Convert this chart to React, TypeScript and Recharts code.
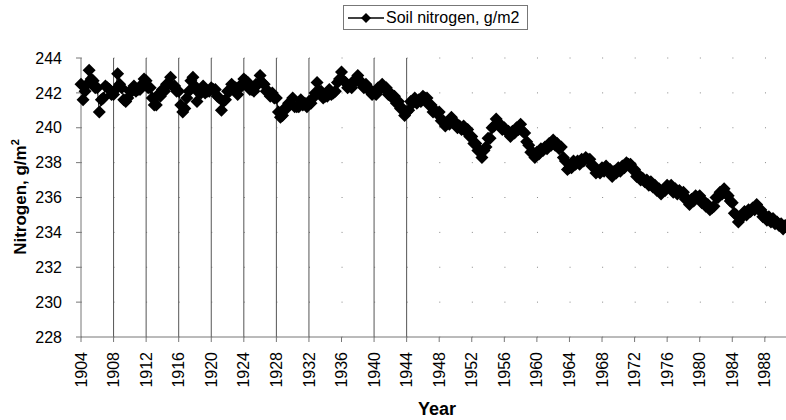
import React from "react";
import {
  CartesianGrid,
  Label,
  Line,
  LineChart,
  ReferenceLine,
  XAxis,
  YAxis,
} from "recharts";

// quarterly readings of soil nitrogen (g/m2), one block per decade
const nitrogen1900s = [
  242.5, 241.6, 242.1, 242.5,
  243.3, 242.8, 242.7, 242.3,
  242.3, 240.9, 241.6, 241.7,
  242.4, 242.3, 242.2, 241.9,
  241.9, 242.2, 243.1, 242.5,
  242.3, 241.6, 241.5, 241.7,
];
const nitrogen1910s = [
  242.1, 242.1, 242.4, 242.1,
  242.2, 242.2, 242.5, 242.8,
  242.7, 242.3, 242.3, 241.7,
  241.3, 241.3, 241.9, 241.8,
  242.2, 242.1, 242.5, 242.5,
  242.9, 242.4, 242.4, 242.1,
  242.1, 241.3, 240.9, 241.1,
  241.7, 242.1, 242.7, 242.9,
  242.4, 241.5, 242.0, 242.0,
  242.4, 242.0, 242.1, 242.1,
];
const nitrogen1920s = [
  242.3, 242.2, 242.2, 241.8,
  241.7, 241.0, 241.5, 241.6,
  242.1, 242.1, 242.5, 242.3,
  242.3, 241.9, 242.4, 242.4,
  242.8, 242.7, 242.6, 242.2,
  242.2, 242.1, 242.5, 242.5,
  243.0, 242.6, 242.5, 242.1,
  242.1, 241.8, 242.0, 241.7,
  241.7, 240.9, 240.6, 240.7,
  241.1, 241.1, 241.4, 241.4,
];
const nitrogen1930s = [
  241.7, 241.2, 241.2, 241.2,
  241.6, 241.3, 241.4, 241.2,
  241.5, 241.4, 241.7, 242.0,
  242.6, 242.1, 242.1, 241.7,
  241.8, 241.8, 242.2, 241.9,
  242.0, 242.1, 242.6, 242.8,
  243.2, 242.7, 242.6, 242.3,
  242.4, 242.3, 242.7, 242.7,
  243.0, 242.6, 242.6, 242.3,
  242.5, 242.2, 242.2, 241.9,
];
const nitrogen1940s = [
  242.0, 241.9, 242.3, 242.2,
  242.5, 242.3, 242.3, 241.9,
  242.0, 241.7, 241.8, 241.4,
  241.5, 241.1, 241.1, 240.7,
  240.9, 241.0, 241.5, 241.4,
  241.7, 241.4, 241.6, 241.5,
  241.8, 241.7, 241.7, 241.3,
  241.3, 240.9, 241.0, 240.8,
  240.9, 240.4, 240.4, 240.1,
  240.3, 240.2, 240.6, 240.3,
];
const nitrogen1950s = [
  240.3, 240.0, 240.1, 239.9,
  240.1, 239.8, 239.9, 239.5,
  239.5, 239.1, 239.1, 238.7,
  238.7, 238.3, 238.7, 238.9,
  239.4, 239.4, 240.0, 240.1,
  240.5, 240.2, 240.2, 239.9,
  240.0, 239.8, 239.8, 239.5,
  239.8, 239.7, 240.0, 239.9,
  240.2, 239.8, 239.7, 239.2,
  239.0, 238.6, 238.6, 238.3,
];
const nitrogen1960s = [
  238.6, 238.5, 238.8, 238.7,
  238.9, 238.8, 239.1, 239.0,
  239.3, 239.0, 239.1, 238.8,
  238.9, 238.3, 238.1, 237.6,
  237.7, 237.7, 238.1, 237.9,
  238.1, 237.9, 238.2, 238.1,
  238.3, 238.2, 238.2, 237.8,
  237.8, 237.4, 237.5, 237.4,
  237.7, 237.5, 237.8, 237.5,
  237.6, 237.2, 237.5, 237.4,
];
const nitrogen1970s = [
  237.7, 237.5, 237.8, 237.7,
  238.0, 237.9, 237.9, 237.6,
  237.6, 237.2, 237.3, 237.0,
  237.1, 236.9, 237.0, 236.7,
  236.9, 236.6, 236.7, 236.4,
  236.5, 236.2, 236.4, 236.4,
  236.7, 236.6, 236.7, 236.3,
  236.5, 236.2, 236.4, 236.2,
  236.3, 235.9, 235.9, 235.6,
  235.9, 235.8, 236.1, 236.0,
];
const nitrogen1980s = [
  236.1, 235.7, 235.8, 235.5,
  235.6, 235.3, 235.4, 235.5,
  236.0, 236.0, 236.3, 236.2,
  236.5, 236.2, 236.1, 235.8,
  235.7, 235.1, 235.0, 234.6,
  234.9, 234.9, 235.2, 235.0,
  235.3, 235.2, 235.4, 235.3,
  235.6, 235.3, 235.3, 234.9,
  235.0, 234.7, 234.9, 234.6,
  234.8, 234.5, 234.6, 234.4,
];
const nitrogen1990s = [234.5, 234.2, 234.4];

const blocks: [number, number[]][] = [
  [1904, nitrogen1900s],
  [1910, nitrogen1910s],
  [1920, nitrogen1920s],
  [1930, nitrogen1930s],
  [1940, nitrogen1940s],
  [1950, nitrogen1950s],
  [1960, nitrogen1960s],
  [1970, nitrogen1970s],
  [1980, nitrogen1980s],
  [1990, nitrogen1990s],
];

const yearTicks = [
  1904, 1908, 1912, 1916, 1920, 1924, 1928, 1932, 1936, 1940, 1944, 1948,
  1952, 1956, 1960, 1964, 1968, 1972, 1976, 1980, 1984, 1988,
];
const nitrogenTicks = [228, 230, 232, 234, 236, 238, 240, 242, 244];
const markerYears = [1908, 1912, 1916, 1920, 1924, 1928, 1932, 1940, 1944];

const data = blocks.flatMap(([from, values]) =>
  values.map((v, i) => ({ year: from + i * 0.25, nitrogen: v }))
);

const FONT = '"Liberation Sans", Arial, sans-serif';

const Diamond = (props: any) => {
  const { cx, cy } = props;
  if (cx == null || cy == null) return null;
  const r = 6.5;
  return (
    <polygon
      points={`${cx},${cy - r} ${cx + r},${cy} ${cx},${cy + r} ${cx - r},${cy}`}
      fill="#000"
    />
  );
};

const YearTick = ({ x, y, payload }: any) => (
  <text
    x={x}
    y={y}
    transform={`rotate(-90 ${x} ${y})`}
    textAnchor="end"
    dy="0.35em"
    fontSize={16}
    fontFamily={FONT}
    fill="#000"
  >
    {payload.value}
  </text>
);

const LegendBox = () => (
  <div
    style={{
      position: "absolute",
      left: 343,
      top: 5,
      border: "1px solid #777",
      width: 185,
      height: 25,
      boxSizing: "border-box",
      display: "flex",
      alignItems: "center",
      fontFamily: FONT,
      fontSize: 16,
      background: "#fff",
    }}
  >
    <svg width={42} height={20}>
      <line x1={4} y1={10} x2={40} y2={10} stroke="#000" strokeWidth={1.5} />
      <polygon points="22,5 27,10 22,15 17,10" fill="#000" />
    </svg>
    <span>Soil nitrogen, g/m2</span>
  </div>
);

export default function App() {
  return (
    <div
      style={{
        position: "absolute",
        left: 0,
        top: 0,
        width: 786,
        height: 420,
        background: "#fff",
      }}
    >
      <LineChart
        width={786}
        height={420}
        data={data}
        margin={{ top: 58, right: 0, left: 0, bottom: 0 }}
      >
        <CartesianGrid
          vertical={false}
          stroke="#888"
          strokeDasharray="1 31.57"
        />
        <XAxis
          dataKey="year"
          type="number"
          domain={[1904, 1990.6]}
          ticks={yearTicks}
          tick={<YearTick />}
          tickSize={5}
          tickMargin={10}
          height={83}
          stroke="#777"
          interval={0}
        >
          <Label
            content={() => (
              <text
                x={437}
                y={415}
                textAnchor="middle"
                fontFamily={FONT}
                fontWeight="bold"
                fontSize={18}
                fill="#000"
              >
                Year
              </text>
            )}
          />
        </XAxis>
        <YAxis
          type="number"
          domain={[228, 244]}
          ticks={nitrogenTicks}
          width={81}
          tickSize={5}
          tickMargin={14}
          stroke="#777"
          tick={{ fill: "#000", fontSize: 16, fontFamily: FONT }}
          interval={0}
        >
          <Label
            content={() => (
              <text
                x={26}
                y={197}
                transform="rotate(-90 26 197)"
                textAnchor="middle"
                fontFamily={FONT}
                fontWeight="bold"
                fontSize={17}
                fill="#000"
              >
                Nitrogen, g/m
                <tspan fontSize={11} dy={-7}>
                  2
                </tspan>
              </text>
            )}
          />
        </YAxis>
        {markerYears.map((yr) => (
          <ReferenceLine key={yr} x={yr} stroke="#555" strokeWidth={1} />
        ))}
        <Line
          type="linear"
          dataKey="nitrogen"
          stroke="#000"
          strokeWidth={1}
          dot={<Diamond />}
          activeDot={false}
          isAnimationActive={false}
        />
      </LineChart>
      <LegendBox />
    </div>
  );
}
